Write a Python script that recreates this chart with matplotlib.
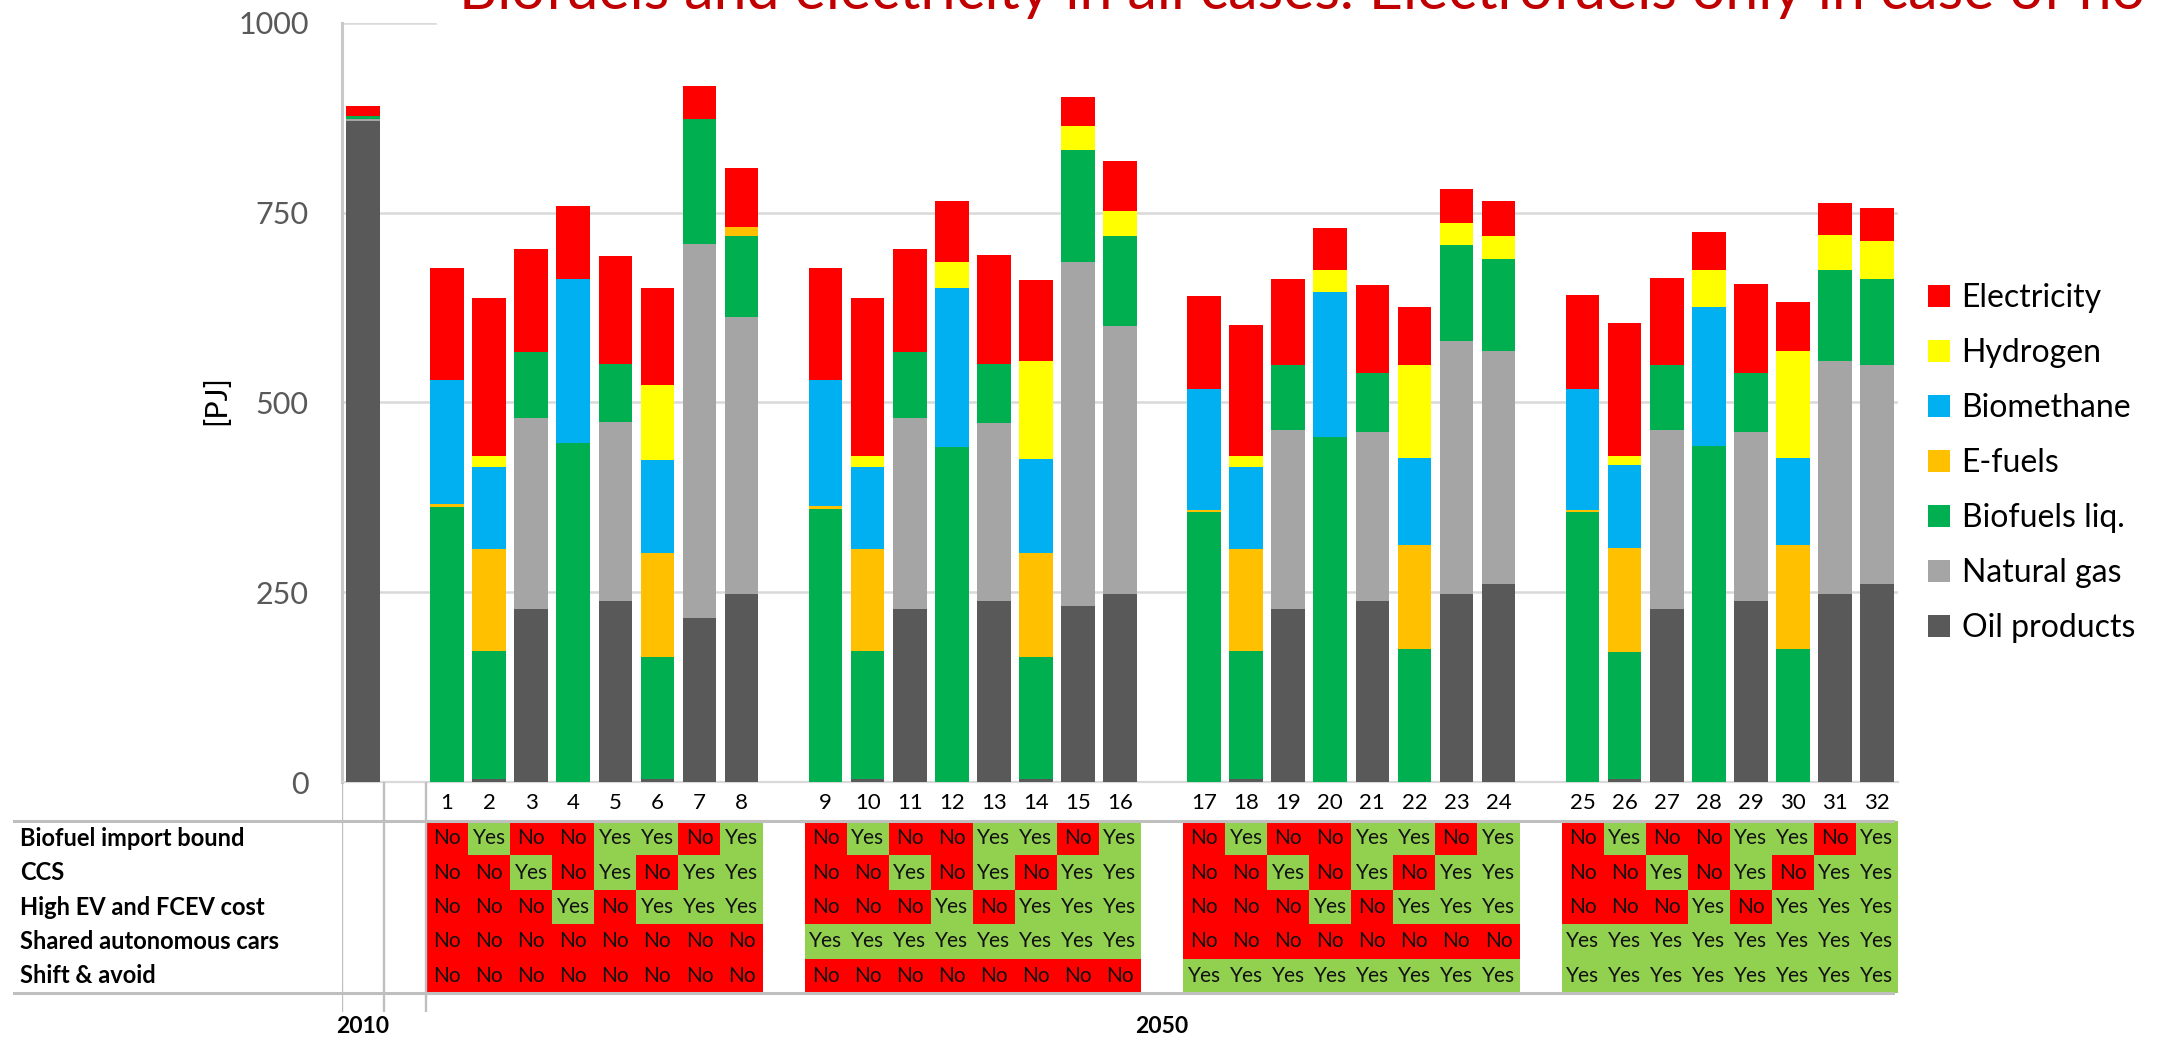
import matplotlib
matplotlib.use('Agg')
import matplotlib.pyplot as plt
from matplotlib.patches import Rectangle
import numpy as np

plt.rcParams['font.family'] = ['Lato', 'DejaVu Sans']

# stacked series, bottom to top; first entry = 2010, then scenarios 1..32
fuels = ['Oil products', 'Natural gas', 'Biofuels liq.', 'E-fuels',
         'Biomethane', 'Hydrogen', 'Electricity']
colors = ['#595959', '#A5A5A5', '#00B050', '#FFC000', '#00B0F0', '#FFFF00', '#FF0000']

oil = [870,
       0, 4, 228, 0, 238, 4, 216, 248,
       0, 4, 228, 0, 238, 4, 232, 248,
       0, 4, 228, 0, 238, 0, 248, 261,
       0, 4, 228, 0, 238, 0, 248, 261]
gas = [3,
       0, 0, 252, 0, 236, 0, 493, 365,
       0, 0, 252, 0, 235, 0, 453, 353,
       0, 0, 236, 0, 223, 0, 333, 306,
       0, 0, 236, 0, 223, 0, 307, 288]
biofuels = [4,
            362, 168, 86, 447, 76, 161, 164, 106,
            360, 168, 86, 441, 77, 161, 147, 118,
            356, 168, 85, 455, 78, 175, 126, 122,
            356, 167, 85, 442, 78, 175, 119, 113]
efuels = [0,
          4, 135, 0, 0, 0, 137, 0, 12,
          4, 135, 0, 0, 0, 137, 0, 0,
          2, 135, 0, 0, 0, 137, 0, 0,
          2, 137, 0, 0, 0, 137, 0, 0]
biomethane = [0,
              164, 108, 0, 215, 0, 122, 0, 0,
              165, 108, 0, 210, 0, 124, 0, 0,
              160, 108, 0, 190, 0, 115, 0, 0,
              159, 109, 0, 184, 0, 115, 0, 0]
hydrogen = [0,
            0, 15, 0, 0, 0, 99, 0, 0,
            0, 15, 0, 34, 0, 128, 32, 33,
            0, 15, 0, 29, 0, 122, 29, 30,
            0, 12, 0, 48, 0, 140, 47, 50]
electricity = [13,
               147, 208, 136, 97, 143, 127, 44, 78,
               148, 208, 136, 80, 144, 107, 38, 66,
               122, 172, 113, 56, 116, 77, 45, 46,
               125, 176, 115, 51, 117, 65, 42, 44]

row_labels = ['Biofuel import bound', 'CCS', 'High EV and FCEV cost',
              'Shared autonomous cars', 'Shift & avoid']
import_bound = ('No Yes No No Yes Yes No Yes  No Yes No No Yes Yes No Yes  '
                'No Yes No No Yes Yes No Yes  No Yes No No Yes Yes No Yes').split()
ccs = ('No No Yes No Yes No Yes Yes  No No Yes No Yes No Yes Yes  '
       'No No Yes No Yes No Yes Yes  No No Yes No Yes No Yes Yes').split()
high_cost = ('No No No Yes No Yes Yes Yes  No No No Yes No Yes Yes Yes  '
             'No No No Yes No Yes Yes Yes  No No No Yes No Yes Yes Yes').split()
shared = ('No No No No No No No No  Yes Yes Yes Yes Yes Yes Yes Yes  '
          'No No No No No No No No  Yes Yes Yes Yes Yes Yes Yes Yes').split()
shift = ('No No No No No No No No  No No No No No No No No  '
         'Yes Yes Yes Yes Yes Yes Yes Yes  Yes Yes Yes Yes Yes Yes Yes Yes').split()
table_rows = [import_bound, ccs, high_cost, shared, shift]

scenario_labels = [str(i) for i in range(1, 33)]

title = 'Biofuels and electricity in all cases. Electrofuels only in case of no'

# category slots: 2010, empty, then four groups of 8 separated by an empty slot
scen_slots = np.array([2 + i + i // 8 for i in range(32)])
slots = np.concatenate([[0], scen_slots])

W, H = 2160, 1037
fig = plt.figure(figsize=(W / 100, H / 100), dpi=100)


def fx(px):
    return px / W


def fy(py):
    return 1 - py / H


ax = fig.add_axes([fx(342), fy(782), fx(1898) - fx(342), fy(22.7) - fy(782)])
series = [oil, gas, biofuels, efuels, biomethane, hydrogen, electricity]
bottom = np.zeros(len(slots))
for name, vals, c in zip(fuels, series, colors):
    vals = np.array(vals, dtype=float)
    ax.bar(slots, vals, 0.8, bottom=bottom, color=c, label=name, zorder=3)
    bottom += vals

ax.set_xlim(-0.5, 36.5)
ax.set_ylim(0, 1000)
ax.set_yticks([0, 250, 500, 750, 1000])
ax.set_xticks([])
ax.yaxis.grid(True, color='#D9D9D9', lw=1.8)
ax.set_axisbelow(True)
ax.tick_params(axis='y', length=0, pad=24, labelsize=22, labelcolor='#595959')
for s in ['top', 'right']:
    ax.spines[s].set_visible(False)
ax.spines['left'].set_color('#C8C8C8')
ax.spines['left'].set_linewidth(2.2)
ax.spines['bottom'].set_color('#D9D9D9')
ax.spines['bottom'].set_linewidth(1.6)
ax.set_ylabel('[PJ]', fontsize=22, color='black')
ax.yaxis.set_label_coords(-0.072, 0.503)

h, l = ax.get_legend_handles_labels()
ax.legend(h[::-1], l[::-1], loc='upper left', bbox_to_anchor=(fx(1928), fy(283)),
          bbox_transform=fig.transFigure, frameon=False, fontsize=23,
          handlelength=0.7, handleheight=0.66, handletextpad=0.35,
          labelspacing=0.785, borderpad=0, borderaxespad=0)

# title, partly cut off at the top edge, on a white box that hides the top gridline
fig.add_artist(Rectangle((fx(437), fy(27)), 1 - fx(437), 27 / H,
                         transform=fig.transFigure, color='white', zorder=5))
fig.text(fx(459), fy(9), title, color='#C00000', fontsize=42.5,
         ha='left', va='baseline', zorder=6)

# table of scenario settings under the chart
ax_t = fig.add_axes([fx(342), fy(1012), fx(1898) - fx(342), fy(782) - fy(1012)])
ax_t.set_xlim(-0.5, 36.5)
ax_t.set_ylim(5.55, -1.134)
ax_t.axis('off')
ax_t.patch.set_visible(False)

yt = ax_t.get_yaxis_transform()
xt = ax_t.get_xaxis_transform()
for r, (lab, vals) in enumerate(zip(row_labels, table_rows)):
    ax_t.text(-0.207, r + 0.5, lab, transform=yt, ha='left', va='center',
              fontsize=17, fontweight='bold', color='black')
    for s, v in zip(scen_slots, vals):
        c = '#92D050' if v == 'Yes' else '#FF0000'
        ax_t.bar(s, 1, width=1.0, bottom=r, color=c, lw=0)
        ax_t.text(s, r + 0.5, v, ha='center', va='center', fontsize=15, color='#111111')

for s, lab in zip(scen_slots, scenario_labels):
    ax_t.text(s, -0.52, lab, ha='center', va='center', fontsize=16, color='black')

for xv in [-0.5, 0.5, 1.5]:
    ax_t.axvline(xv, color='#BFBFBF', lw=1.7)
for yv in [0, 5]:
    ax_t.plot([-0.211, 0.997], [yv, yv], transform=yt, color='#BFBFBF', lw=2.2,
              clip_on=False)

ax_t.text(0, -0.065, '2010', transform=xt, ha='center', va='center',
          fontsize=16.5, fontweight='bold')
ax_t.text(19, -0.065, '2050', transform=xt, ha='center', va='center',
          fontsize=16.5, fontweight='bold')

fig.savefig('out.png', dpi=100)
